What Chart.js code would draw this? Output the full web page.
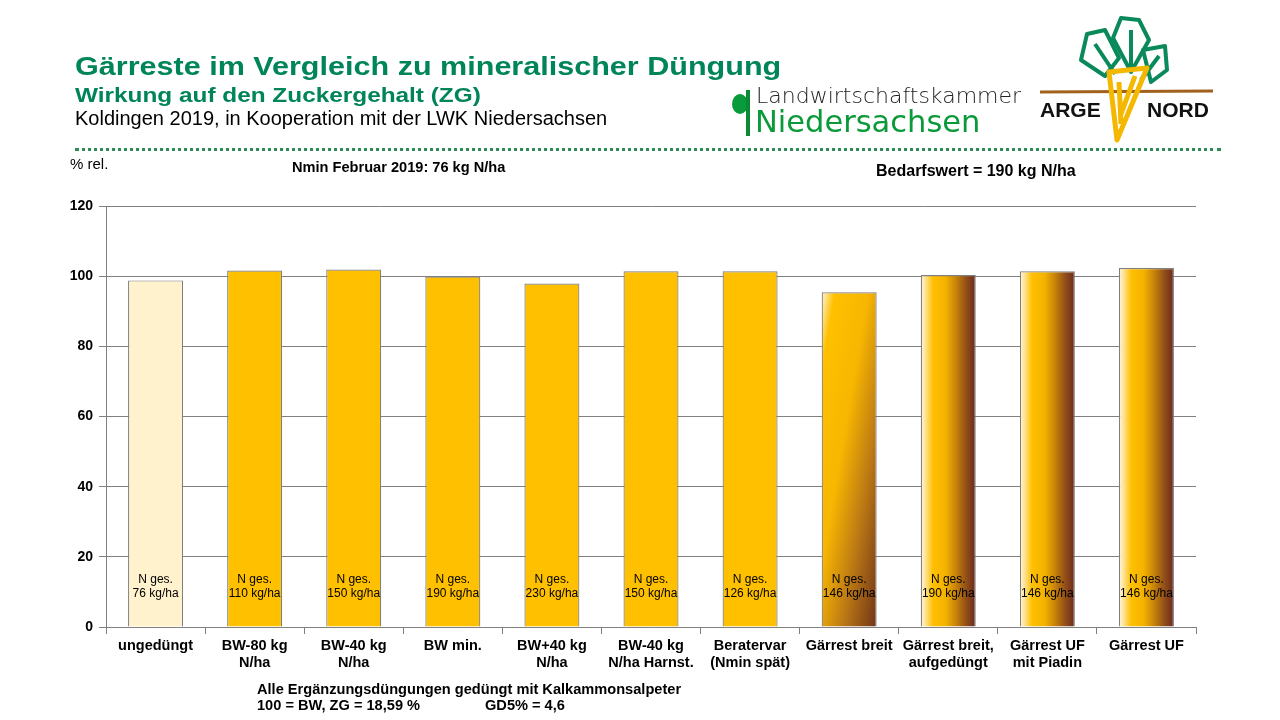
<!DOCTYPE html>
<html>
<head>
<meta charset="utf-8">
<script src="https://cdn.jsdelivr.net/npm/chart.js@4/dist/chart.umd.min.js"></script>
<style>
  body { margin: 0; background: #fff; }
  #wrap { position: relative; width: 1280px; height: 720px; overflow: hidden; font-family: "Liberation Sans", Arial, sans-serif; }
  #wrap canvas { position: absolute; left: 0; top: 0; }
  .t { position: absolute; white-space: nowrap; }
  .wide { transform-origin: left top; }
</style>
</head>
<body>
<div id="wrap">
  <canvas id="mycanvas" width="1280" height="720"></canvas>

  <div class="t wide" style="left:75px;top:51px;font-size:26px;font-weight:bold;color:#00845a;transform:scaleX(1.175);">Gärreste im Vergleich zu mineralischer Düngung</div>
  <div class="t wide" style="left:75px;top:83px;font-size:21px;font-weight:bold;color:#00845a;transform:scaleX(1.16);">Wirkung auf den Zuckergehalt (ZG)</div>
  <div class="t" style="left:75px;top:107px;font-size:20px;color:#000;">Koldingen 2019, in Kooperation mit der LWK Niedersachsen</div>

  <!-- LWK logo -->
  <div class="t" style="left:732px;top:94px;width:16px;height:20px;border-radius:50%;background:#0a9a3a;"></div>
  <div class="t" style="left:746px;top:90px;width:4px;height:46px;background:#0a8a34;"></div>
  <div class="t" style="left:756px;top:83px;font-size:22px;color:#222;font-family:'DejaVu Sans',sans-serif;font-weight:300;">Landwirtschaftskammer</div>
  <div class="t" style="left:755px;top:104px;font-size:30.5px;color:#0a9a3a;font-family:'DejaVu Sans',sans-serif;">Niedersachsen</div>

  <!-- ARGE NORD logo -->
  <svg class="t" style="left:1035px;top:10px;" width="190" height="135" viewBox="0 0 190 135">
    <g fill="none" stroke="#0a8a5a" stroke-width="4" stroke-linejoin="round">
      <polygon points="52,24 46,50 70,66 84,48 70,20"/>
      <polygon points="86,8 78,28 96,62 114,30 104,10"/>
      <polygon points="130,36 108,40 116,72 132,60"/>
      <path d="M60,34 L80,64 M96,20 L96,62 M124,46 L106,70"/>
    </g>
    <line x1="5" y1="82" x2="178" y2="81" stroke="#a0601e" stroke-width="3"/>
    <g fill="none" stroke="#f5b800" stroke-width="5" stroke-linejoin="round">
      <polygon points="74,62 112,58 82,130"/>
      <path d="M84,72 L86,114 M100,66 L86,104"/>
    </g>
    <text x="5" y="107" font-family="'Liberation Sans',Arial,sans-serif" font-weight="bold" font-size="21" fill="#111">ARGE</text>
    <text x="112" y="107" font-family="'Liberation Sans',Arial,sans-serif" font-weight="bold" font-size="21" fill="#111">NORD</text>
  </svg>

  <div class="t" style="left:75px;top:148px;width:1146px;border-top:3px dotted #2e8b57;"></div>

  <div class="t" style="left:70px;top:155px;font-size:15px;color:#000;">% rel.</div>
  <div class="t" style="left:292px;top:159px;font-size:14.6px;font-weight:bold;color:#000;">Nmin Februar 2019: 76 kg N/ha</div>
  <div class="t" style="left:876px;top:162px;font-size:16px;font-weight:bold;color:#000;">Bedarfswert = 190 kg N/ha</div>

  <div class="t" style="left:257px;top:681px;font-size:14.6px;font-weight:bold;color:#000;">Alle Ergänzungsdüngungen gedüngt mit Kalkammonsalpeter</div>
  <div class="t" style="left:257px;top:697px;font-size:14.6px;font-weight:bold;color:#000;">100 = BW, ZG = 18,59 %</div>
  <div class="t" style="left:485px;top:697px;font-size:14.6px;font-weight:bold;color:#000;">GD5% = 4,6</div>
</div>

<script>
var categories = [
  'ungedüngt',
  ['BW-80 kg', 'N/ha'],
  ['BW-40 kg', 'N/ha'],
  'BW min.',
  ['BW+40 kg', 'N/ha'],
  ['BW-40 kg', 'N/ha Harnst.'],
  ['Beratervar', '(Nmin spät)'],
  'Gärrest breit',
  ['Gärrest breit,', 'aufgedüngt'],
  ['Gärrest UF', 'mit Piadin'],
  'Gärrest UF'
];
var zgRel = [98.8, 101.6, 101.9, 99.9, 97.9, 101.4, 101.4, 95.4, 100.3, 101.4, 102.3];
var nGes = ['76', '110', '150', '190', '230', '150', '126', '146', '190', '146', '146'];
// fill style per bar: pale, solid, diagonal, shaded
var fillType = ['pale', 'solid', 'solid', 'solid', 'solid', 'solid', 'solid', 'diag', 'shade', 'shade', 'shade'];
var yTicks = [0, 20, 40, 60, 80, 100, 120];

var barPct = 0.555;

function barFill(context) {
  var chart = context.chart;
  var i = context.dataIndex;
  var type = fillType[i];
  if (type === 'pale') return '#fff2cc';
  if (type === 'solid') return '#ffc000';
  var xs = chart.scales.x, ys = chart.scales.y;
  if (!xs || !ys || !chart.chartArea) return '#ffc000';
  var w = xs.width / categories.length * barPct;
  var x0 = xs.getPixelForValue(i) - w / 2;
  var top = ys.getPixelForValue(zgRel[i]);
  var bottom = ys.getPixelForValue(0);
  var g;
  if (type === 'diag') {
    var h = bottom - top, k = 0.17;
    var len = (w + k * h) / (1 + k * k);
    g = chart.ctx.createLinearGradient(x0, top, x0 + len, top + k * len);
    g.addColorStop(0, '#fff4d4');
    g.addColorStop(0.12, '#ffc000');
    g.addColorStop(0.42, '#f7b600');
    g.addColorStop(0.68, '#bf7c14');
    g.addColorStop(1, '#703418');
  } else {
    g = chart.ctx.createLinearGradient(x0, 0, x0 + w, 0);
    g.addColorStop(0, '#fff6dc');
    g.addColorStop(0.08, '#ffe49a');
    g.addColorStop(0.22, '#ffc000');
    g.addColorStop(0.45, '#f4b200');
    g.addColorStop(0.62, '#cc8808');
    g.addColorStop(0.82, '#935018');
    g.addColorStop(1, '#6a281e');
  }
  return g;
}

var nLabelPlugin = {
  id: 'nLabels',
  afterDatasetsDraw: function(chart) {
    var ctx = chart.ctx;
    var meta = chart.getDatasetMeta(0);
    var y0 = chart.scales.y.getPixelForValue(0);
    ctx.save();
    ctx.fillStyle = '#000';
    ctx.font = '12px "Liberation Sans", Arial, sans-serif';
    ctx.textAlign = 'center';
    ctx.textBaseline = 'middle';
    meta.data.forEach(function(bar, i) {
      ctx.fillText('N ges.', bar.x, y0 - 47);
      ctx.fillText(nGes[i] + ' kg/ha', bar.x, y0 - 33);
    });
    ctx.restore();
  }
};

var chartdata = {
  labels: categories,
  datasets: [{
    label: 'ZG % rel.',
    data: zgRel,
    backgroundColor: barFill,
    borderColor: '#7f7f7f',
    borderWidth: 1.2,
    categoryPercentage: 1,
    barPercentage: barPct
  }]
};

var ctx = document.getElementById('mycanvas');
var barGraph = new Chart(ctx, {
  type: 'bar',
  data: chartdata,
  plugins: [nLabelPlugin],
  options: {
    responsive: false,
    animation: false,
    layout: { padding: { left: 50, right: 84, top: 206, bottom: 44 } },
    plugins: { legend: { display: false }, tooltip: { enabled: false } },
    scales: {
      x: {
        afterFit: function(scale) { scale.height = 49; },
        grid: { offset: true, drawOnChartArea: false, drawTicks: true, tickLength: 7, color: '#808080' },
        border: { color: '#808080' },
        ticks: {
          color: '#000',
          padding: 3,
          maxRotation: 0,
          autoSkip: false,
          font: { family: '"Liberation Sans", Arial, sans-serif', size: 14.5, weight: 'bold', lineHeight: 1.18 }
        }
      },
      y: {
        min: 0,
        max: 120,
        afterFit: function(scale) { scale.width = 56; },
        afterBuildTicks: function(scale) { scale.ticks = yTicks.map(function(v) { return { value: v }; }); },
        grid: { color: '#808080', tickLength: 7 },
        border: { color: '#808080' },
        ticks: {
          color: '#000',
          padding: 6,
          font: { family: '"Liberation Sans", Arial, sans-serif', size: 14, weight: 'bold' }
        }
      }
    }
  }
});
</script>
</body>
</html>
